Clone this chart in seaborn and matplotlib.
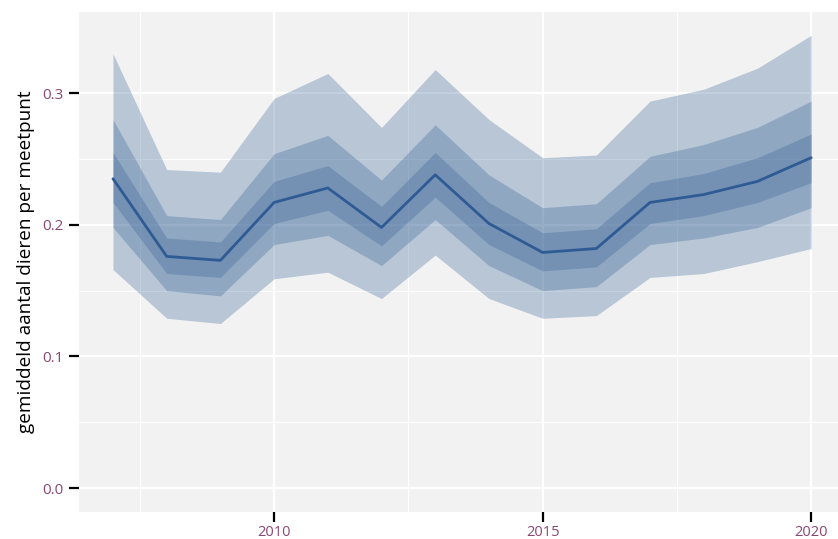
import numpy as np
import pandas as pd
import matplotlib
matplotlib.use("Agg")
import matplotlib.pyplot as plt
import seaborn as sns

# values
jaar = [2007, 2008, 2009, 2010, 2011, 2012, 2013, 2014, 2015, 2016, 2017, 2018, 2019, 2020]
gemiddelde = [0.235, 0.176, 0.173, 0.217, 0.228, 0.198, 0.238, 0.201, 0.179, 0.182, 0.217, 0.223, 0.233, 0.251]
buiten_laag = [0.166, 0.129, 0.125, 0.159, 0.164, 0.144, 0.177, 0.144, 0.129, 0.131, 0.160, 0.163, 0.172, 0.182]
buiten_hoog = [0.330, 0.242, 0.240, 0.296, 0.315, 0.274, 0.318, 0.280, 0.251, 0.253, 0.294, 0.303, 0.319, 0.344]
midden_laag = [0.198, 0.150, 0.146, 0.185, 0.192, 0.169, 0.204, 0.169, 0.150, 0.153, 0.185, 0.190, 0.198, 0.213]
midden_hoog = [0.280, 0.207, 0.204, 0.254, 0.268, 0.234, 0.276, 0.238, 0.213, 0.216, 0.252, 0.261, 0.274, 0.294]
binnen_laag = [0.217, 0.163, 0.160, 0.201, 0.211, 0.184, 0.221, 0.185, 0.165, 0.168, 0.201, 0.207, 0.217, 0.232]
binnen_hoog = [0.255, 0.190, 0.187, 0.233, 0.245, 0.214, 0.255, 0.217, 0.194, 0.197, 0.232, 0.239, 0.251, 0.269]

df = pd.DataFrame({"jaar": jaar, "gemiddelde": gemiddelde})

sns.set_theme(style="whitegrid", rc={
    "axes.facecolor": "#F2F2F2",
    "grid.color": "white",
    "axes.edgecolor": "#F2F2F2",
})
plt.rcParams["font.family"] = ["Open Sans", "DejaVu Sans"]

band_kleur = "#356196"
tick_kleur = "#8C4670"

fig = plt.figure(figsize=(8.38, 5.39), dpi=100)
ax = fig.add_axes([79 / 838, 27 / 539, 759 / 838, 500 / 539])

# drie geneste banden, elk met dezelfde transparante kleur
for laag, hoog in [(buiten_laag, buiten_hoog), (midden_laag, midden_hoog), (binnen_laag, binnen_hoog)]:
    ax.fill_between(jaar, laag, hoog, color=band_kleur, alpha=0.3, linewidth=0)

sns.lineplot(data=df, x="jaar", y="gemiddelde", ax=ax, color="#2F5B95", linewidth=2)

ax.set_xlim(2006.367, 2020.50)
ax.set_ylim(-0.0182, 0.3617)
ax.set_xticks([2010, 2015, 2020])
ax.set_xticks([2007.5, 2012.5, 2017.5], minor=True)
ax.set_yticks([0.0, 0.1, 0.2, 0.3])
ax.set_yticks([0.05, 0.15, 0.25], minor=True)
ax.set_yticklabels(["0.0", "0.1", "0.2", "0.3"])
ax.grid(which="major", color="white", linewidth=1.6)
ax.grid(which="minor", color="white", linewidth=0.8)
ax.set_axisbelow(True)

ax.tick_params(axis="both", which="major", colors="black", labelcolor=tick_kleur,
               labelsize=10.5, length=7.5, width=1.6, direction="out")
ax.tick_params(axis="x", which="major", pad=2)
ax.tick_params(axis="y", which="major", pad=3.5, labelsize=11)
ax.tick_params(which="minor", length=0)
ax.tick_params(left=True, bottom=True)

ax.set_xlabel("")
ax.set_ylabel("gemiddeld aantal dieren per meetpunt", fontsize=13.7, color="black", labelpad=5)
for s in ax.spines.values():
    s.set_visible(False)

fig.savefig("out.png", dpi=100)
